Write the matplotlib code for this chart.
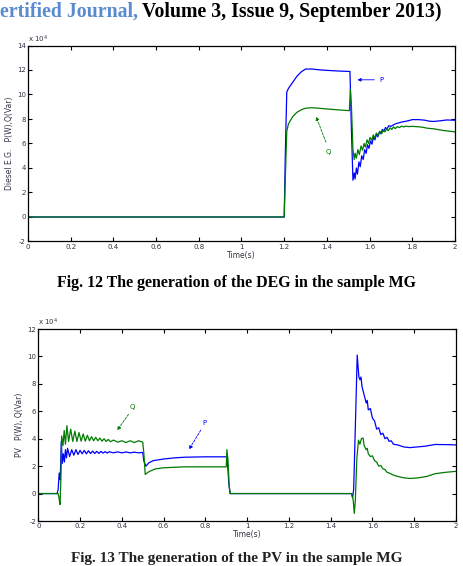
import matplotlib
matplotlib.use("Agg")
import matplotlib.pyplot as plt

# ---------------- data (units of 1e4) ----------------
deg_p_t = [0, 1.2, 1.205, 1.212, 1.22, 1.24, 1.26, 1.28, 1.30, 1.33, 1.36, 1.40, 1.45, 1.508,
           1.515, 1.522, 1.528, 1.532, 1.538, 1.543, 1.55, 1.556, 1.563, 1.57, 1.577, 1.584,
           1.59, 1.597, 1.604, 1.611, 1.618, 1.625, 1.632, 1.639, 1.646, 1.653, 1.66, 1.667,
           1.674, 1.681, 1.69, 1.70, 1.72, 1.75, 1.78, 1.80, 1.83, 1.86, 1.88, 1.90, 1.93, 1.96, 2.0]
deg_p_v = [0, 0, 5, 10.2, 10.5, 11.0, 11.5, 11.85, 12.08, 12.08, 12.02, 11.97, 11.92, 11.88,
           7, 3.0, 3.6, 3.1, 4.0, 3.5, 4.5, 4.1, 5.0, 4.7, 5.5, 5.2,
           5.9, 5.6, 6.2, 5.95, 6.5, 6.3, 6.75, 6.55, 6.95, 6.8, 7.15, 7.0,
           7.3, 7.2, 7.45, 7.4, 7.6, 7.75, 7.85, 7.95, 7.95, 7.9, 7.82, 7.8, 7.85, 7.92, 7.9]

deg_q_t = [0, 1.2, 1.205, 1.212, 1.22, 1.24, 1.26, 1.28, 1.30, 1.33, 1.36, 1.40, 1.45, 1.505,
           1.51, 1.515, 1.522, 1.528, 1.532, 1.538, 1.545, 1.552, 1.56, 1.567, 1.574, 1.58,
           1.588, 1.595, 1.602, 1.61, 1.617, 1.624, 1.632, 1.64, 1.648, 1.656, 1.664, 1.672,
           1.68, 1.688, 1.696, 1.704, 1.712, 1.72, 1.73, 1.74, 1.75, 1.76, 1.77, 1.78, 1.80,
           1.84, 1.87, 1.90, 1.95, 2.0]
deg_q_v = [0, 0, 3, 7.0, 7.6, 8.2, 8.55, 8.75, 8.88, 8.92, 8.88, 8.82, 8.75, 8.68,
           10.4, 9.0, 5.5, 4.7, 5.2, 4.8, 5.5, 5.1, 5.8, 5.45, 6.0, 5.7,
           6.3, 6.0, 6.5, 6.25, 6.7, 6.45, 6.85, 6.65, 7.0, 6.8, 7.1, 6.95,
           7.2, 7.05, 7.28, 7.15, 7.35, 7.22, 7.38, 7.3, 7.42, 7.35, 7.42, 7.38, 7.4,
           7.35, 7.25, 7.2, 7.05, 6.95]

pv_p_t = [0, 0.09, 0.095, 0.10, 0.105, 0.11, 0.115, 0.12, 0.125, 0.13, 0.135, 0.14, 0.15, 0.16,
          0.17, 0.18, 0.19, 0.20, 0.21, 0.22, 0.23, 0.24, 0.25, 0.26, 0.27, 0.28, 0.29, 0.30,
          0.31, 0.32, 0.33, 0.34, 0.36, 0.38, 0.40, 0.42, 0.44, 0.46, 0.48, 0.50,
          0.505, 0.515, 0.53, 0.55, 0.6, 0.65, 0.7, 0.8, 0.9, 0.905, 0.912, 0.918,
          1.5, 1.505, 1.51, 1.52, 1.527, 1.535, 1.54, 1.545, 1.55, 1.56, 1.57, 1.575, 1.58,
          1.59, 1.60, 1.61, 1.62, 1.63, 1.64, 1.65, 1.66, 1.67, 1.68, 1.69, 1.70, 1.72, 1.75,
          1.78, 1.80, 1.85, 1.90, 1.95, 2.0]
pv_p_v = [0, 0, 0.3, 1.5, 1.0, 3.8, 2.2, 2.9, 2.3, 3.2, 2.6, 3.3, 2.7, 3.2,
          2.8, 3.2, 2.85, 3.15, 2.9, 3.15, 2.9, 3.12, 2.92, 3.1, 2.92, 3.08, 2.93, 3.08,
          2.95, 3.06, 2.95, 3.05, 2.97, 3.04, 2.97, 3.03, 2.97, 3.02, 2.97, 3.0,
          2.4, 2.0, 2.25, 2.4, 2.52, 2.6, 2.65, 2.68, 2.68, 2.5, 0.8, 0,
          0, -0.3, 0.3, 6, 10.1, 8.5, 8.3, 8.5, 7.8, 7.2, 6.6, 6.8, 6.1,
          6.2, 5.5, 5.3, 4.7, 4.8, 4.3, 4.4, 4.0, 4.1, 3.8, 3.85, 3.6, 3.55, 3.4,
          3.35, 3.38, 3.45, 3.58, 3.57, 3.55]

pv_q_t = [0, 0.095, 0.10, 0.104, 0.108, 0.112, 0.118, 0.124, 0.13, 0.137, 0.145, 0.155, 0.165,
          0.175, 0.185, 0.195, 0.205, 0.215, 0.225, 0.235, 0.245, 0.255, 0.265, 0.275, 0.285,
          0.295, 0.305, 0.315, 0.325, 0.335, 0.345, 0.36, 0.38, 0.40, 0.42, 0.44, 0.46, 0.48,
          0.50, 0.505, 0.512, 0.53, 0.56, 0.6, 0.7, 0.9, 0.903, 0.908, 0.914, 0.92,
          1.5, 1.508, 1.513, 1.518, 1.525, 1.533, 1.54, 1.547, 1.555, 1.56, 1.57, 1.575, 1.58,
          1.59, 1.60, 1.61, 1.62, 1.63, 1.64, 1.65, 1.66, 1.67, 1.68, 1.70, 1.72, 1.75, 1.78,
          1.82, 1.86, 1.90, 1.95, 2.0]
pv_q_v = [0, 0, -0.4, -0.8, 1.0, 4.2, 3.5, 4.6, 3.6, 4.95, 3.8, 4.7, 3.8,
          4.55, 3.8, 4.45, 3.82, 4.35, 3.82, 4.25, 3.85, 4.15, 3.85, 4.1, 3.85,
          4.05, 3.82, 4.0, 3.8, 3.95, 3.78, 3.9, 3.75, 3.85, 3.72, 3.85, 3.72, 3.85,
          3.75, 3.0, 1.4, 1.6, 1.8, 1.88, 1.95, 1.95, 3.2, 2.5, 0.5, 0,
          0, -0.5, -1.45, -0.5, 2.5, 3.9, 3.6, 4.0, 4.05, 3.5, 3.2, 3.3, 2.9,
          2.7, 2.75, 2.4, 2.3, 2.0, 2.05, 1.8, 1.75, 1.55, 1.5, 1.35, 1.25, 1.15, 1.1,
          1.15, 1.25, 1.45, 1.55, 1.62]

x_ticks = [0, 0.2, 0.4, 0.6, 0.8, 1, 1.2, 1.4, 1.6, 1.8, 2]
x_tick_labels = ["0", "0.2", "0.4", "0.6", "0.8", "1", "1.2", "1.4", "1.6", "1.8", "2"]
deg_y_ticks = [-2, 0, 2, 4, 6, 8, 10, 12, 14]
pv_y_ticks = [-2, 0, 2, 4, 6, 8, 10, 12]

header_blue = "ertified Journal,"
header_black = "Volume 3, Issue 9, September 2013)"
caption1 = "Fig. 12 The generation of the DEG in the sample MG"
caption2 = "Fig. 13 The generation of the PV in the sample MG"

BLUE = "#0000ff"
GREEN = "#007a00"
TICKC = "#333344"

W, H = 464, 566
fig = plt.figure(figsize=(W / 100, H / 100), dpi=100)


def style(ax, yticks):
    ax.set_xlim(0, 2)
    ax.set_ylim(yticks[0], yticks[-1])
    ax.set_xticks(x_ticks)
    ax.set_xticklabels(x_tick_labels)
    ax.set_yticks(yticks)
    ax.set_yticklabels([str(v) for v in yticks])
    ax.tick_params(direction="in", top=True, right=True, length=3, width=0.8,
                   labelsize=5, colors="black", labelcolor=TICKC, pad=1.5)
    for s in ax.spines.values():
        s.set_linewidth(0.9)
    ax.text(0, 1.005, r"x 10$^4$", transform=ax.transAxes, fontsize=5,
            color=TICKC, ha="left", va="bottom")


serif = ["Liberation Serif", "DejaVu Serif"]

# header
fig.text(0, 1 - 12 / H, header_blue, color="#5a8ad0", fontsize=14.3, fontweight="bold",
         family=serif, ha="left", va="center")
fig.text(142 / W, 1 - 12 / H, header_black, color="black", fontsize=14.3, fontweight="bold",
         family=serif, ha="left", va="center")

# top axes
ax1 = fig.add_axes([28 / W, 1 - 241.5 / H, (455 - 28) / W, (241.5 - 45.5) / H])
ax1.plot(deg_p_t, deg_p_v, color=BLUE, lw=0.9)
ax1.plot(deg_q_t, deg_q_v, color=GREEN, lw=0.9)
style(ax1, deg_y_ticks)
ax1.set_xlabel("Time(s)", fontsize=5.5, labelpad=1, color=TICKC)
ax1.set_ylabel("Diesel E.G.   P(W),Q(Var)", fontsize=5.5, labelpad=2, color=TICKC)
ax1.annotate("", xy=(1.53, 11.2), xytext=(1.635, 11.2),
             arrowprops=dict(arrowstyle="-|>", color=BLUE, lw=0.6, mutation_scale=5))
ax1.text(1.645, 11.2, "P", color=BLUE, fontsize=5, ha="left", va="center")
ax1.annotate("", xy=(1.345, 8.4), xytext=(1.40, 5.9),
             arrowprops=dict(arrowstyle="-|>", color=GREEN, lw=0.6, ls=(0, (3, 1.5)),
                             mutation_scale=5))
ax1.text(1.405, 5.3, "Q", color=GREEN, fontsize=5, ha="center", va="center")

fig.text(237 / W, 1 - 283 / H, caption1, fontsize=11.4, fontweight="bold", family=serif,
         ha="center", va="center")

# bottom axes
ax2 = fig.add_axes([38.3 / W, 1 - 521 / H, (456 - 38.3) / W, (521 - 329) / H])
ax2.plot(pv_p_t, pv_p_v, color=BLUE, lw=0.9)
ax2.plot(pv_q_t, pv_q_v, color=GREEN, lw=0.9)
style(ax2, pv_y_ticks)
ax2.set_xlabel("Time(s)", fontsize=5.5, labelpad=1, color=TICKC)
ax2.set_ylabel("PV   P(W), Q(Var)", fontsize=5.5, labelpad=2, color=TICKC)
ax2.annotate("", xy=(0.37, 4.45), xytext=(0.44, 5.95),
             arrowprops=dict(arrowstyle="-|>", color=GREEN, lw=0.6, ls=(0, (3, 1.5)),
                             mutation_scale=5))
ax2.text(0.45, 6.3, "Q", color=GREEN, fontsize=5, ha="center", va="center")
ax2.annotate("", xy=(0.715, 3.05), xytext=(0.785, 4.8),
             arrowprops=dict(arrowstyle="-|>", color=BLUE, lw=0.6, ls=(0, (3, 1.5)),
                             mutation_scale=5))
ax2.text(0.795, 5.15, "P", color=BLUE, fontsize=5, ha="center", va="center")

fig.text(237 / W, 1 - 565 / H, caption2, fontsize=11, fontweight="bold", family=serif,
         ha="center", va="bottom", color="#222222")

fig.savefig("out.png", dpi=100)
